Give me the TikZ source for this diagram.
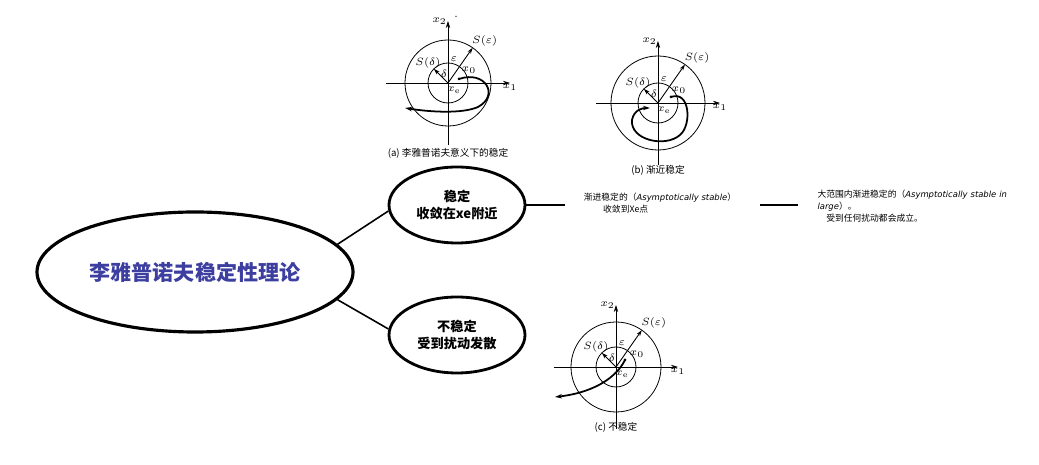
\documentclass[tikz,border=0pt]{standalone}
\usepackage{fontspec}
\newfontfamily\cjk{Noto Sans CJK SC}
\newfontfamily\obl{DejaVu Sans}
\usetikzlibrary{shapes.geometric,arrows.meta,calc}
\newlength\px \setlength\px{0.02cm}
\tikzset{
  bub/.style={draw,ellipse,line width=1.6pt,minimum width=136\px,minimum height=76\px,inner sep=0pt,align=center,font=\cjk\bfseries\fontsize{7.5}{10}\selectfont},
  conn/.style={line width=0.9pt},
  ax/.style={line width=0.4pt,-{Stealth[length=4pt,width=2.5pt]}},
  rad/.style={line width=0.5pt,-{Stealth[length=3.5pt,width=2.2pt]}},
  traj/.style={line width=1pt,-{Stealth[length=4pt,width=2.5pt]}},
  lab/.style={font=\fontsize{6.5}{7}\selectfont,inner sep=0.5pt},
  captxt/.style={font=\cjk\fontsize{5.5}{7}\selectfont},
  note/.style={font=\cjk\fontsize{5}{7}\selectfont,align=left}
}
\newcommand\phaseplot[3]{%
 \scope[shift={(#1,#2)}]
  \draw[ax] (-62,0) -- (62,0) node[lab,below] {$x_1$};
  \draw[ax] (0,62) -- (0,-62) node[lab,left] {$x_2$};
  \draw[line width=0.45pt] (0,0) circle (#3);
  \draw[line width=0.45pt] (0,0) circle (20);
  \draw[rad] (0,0) -- (-55:#3);
  \draw[rad] (0,0) -- (-135:20);
  \node[lab] at ($(-55:#3)+(12,-7)$) {$S(\varepsilon)$};
  \node[lab] at (-20,-20) {$S(\delta)$};
  \node[lab] at (-4,-9) {$\delta$};
  \node[lab] at (6,-24) {$\varepsilon$};
  \node[lab] at (21,-13) {$x_0$};
  \node[lab] at (6,7) {$x_{\mathrm e}$};
 \endscope}
\begin{document}
\begin{tikzpicture}[x=0.02cm,y=-0.02cm]
\useasboundingbox (0,0) rectangle (1039,465);
\node[draw,ellipse,line width=1.8pt,minimum width=316\px,minimum height=120\px,font=\cjk\bfseries\fontsize{12}{14}\selectfont,text={rgb,255:red,60;green,62;blue,160}] (main) at (195,272) {李雅普诺夫稳定性理论};
\node[bub] (st) at (457,205) {稳定\\收敛在\textit{xe}附近};
\node[bub] (un) at (457,335) {不稳定\\受到扰动发散};
\draw[conn] (main.11) -- (st.185);
\draw[conn] (main.-11) -- (un.175);
\node[note] (n1) at (660,203) {渐进稳定的（{\obl\itshape\fontsize{4.8}{6}\selectfont Asymptotically stable}）\\\hspace*{2.2em}收敛到\textit{Xe}点};
\node[note,text width=205\px] (n2) at (920,206) {大范围内渐进稳定的（{\obl\itshape\fontsize{4.8}{6}\selectfont Asymptotically stable in large}）。\\\hspace*{1em}受到任何扰动都会成立。};
\coordinate (c0) at (565,205);
\draw[conn] (st.east) -- (c0);
\coordinate (c1) at (760,205); \coordinate (c2) at (798,205);
\draw[conn] (c1) -- (c2);
\phaseplot{448}{83}{43}
\draw[traj] (459,79) .. controls (485,70) and (500,95) .. (478,107) .. controls (462,114) and (430,112) .. (405,108);
\fill (459,79) circle (1.5);
\node[captxt] at (448,153) {(a) 李雅普诺夫意义下的稳定};
\node[lab] at (456,17) {$\cdot$};
\phaseplot{658}{103}{47}
\draw[traj] (671,97) .. controls (690,90) and (692,125) .. (680,135) .. controls (665,148) and (630,140) .. (632,120) .. controls (634,110) and (642,108) .. (650,108);
\fill (671,97) circle (1.5);
\node[captxt] at (658,170) {(b) 渐近稳定};
\phaseplot{616}{367}{45}
\draw[traj] (625,360) .. controls (615,380) and (590,393) .. (555,397);
\fill (625,360) circle (1.5);
\node[captxt] at (616,427) {(c) 不稳定};
\end{tikzpicture}
\end{document}
